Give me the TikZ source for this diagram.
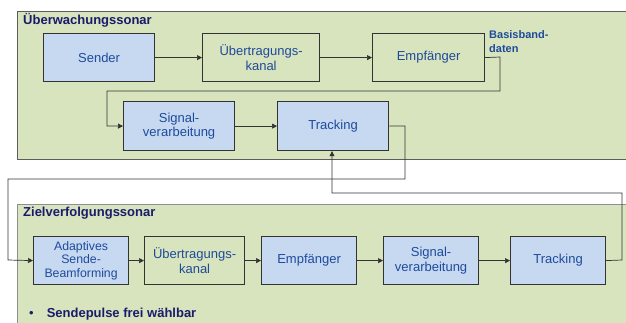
\documentclass[tikz,border=0pt]{standalone}
\usepackage{fontspec}
\setmainfont{Liberation Sans}
\usetikzlibrary{arrows.meta,positioning}
\definecolor{panelgreen}{HTML}{D7E4BD}
\definecolor{boxblue}{HTML}{C6D9F1}
\definecolor{boxtext}{HTML}{1F4A9C}
\definecolor{titletext}{HTML}{1B1B6B}
\definecolor{edgegray}{HTML}{333333}
\tikzset{
  panel/.style={draw=edgegray!80, line width=0.8pt, fill=panelgreen},
  blockbase/.style={draw=edgegray, line width=1.2pt, anchor=north west, inner sep=0pt,
    text=boxtext, align=center, font=\fontsize{13}{14.5}\selectfont},
  bluebox/.style={blockbase, fill=boxblue},
  greenbox/.style={blockbase, fill=panelgreen},
  link/.style={draw=edgegray, line width=0.7pt, -{Triangle[length=5pt,width=5pt]}},
  paneltitle/.style={anchor=north west, inner sep=0pt, text=titletext,
    font=\bfseries\fontsize{13}{14}\selectfont},
}
\begin{document}
\begin{tikzpicture}[x=1pt,y=-1pt]
\useasboundingbox (0,0) rectangle (626,322);
\fill[white] (0,0) rectangle (626,322);

% upper panel
\draw[panel] (17,11) rectangle (627,159);
\node[paneltitle] (t1) at (23,13.5) {Überwachungssonar};

\node[bluebox, minimum width=111pt, minimum height=48pt] (send) at (43,33) {Sender};
\node[greenbox, minimum width=117pt, minimum height=48pt] (kan1) at (202,33) {Übertragungs-\\kanal};
\node[greenbox, minimum width=112pt, minimum height=48pt] (emp1) at (372,33) {Empfänger};
\node[anchor=north west, inner sep=0pt, text=boxtext, align=left,
  font=\bfseries\fontsize{11}{13.5}\selectfont] (bbd) at (489,30.5) {Basisband-\\daten};
\node[bluebox, minimum width=111pt, minimum height=49pt] (sig1) at (123,101) {Signal-\\verarbeitung};
\node[bluebox, minimum width=111pt, minimum height=49pt] (trk1) at (277,101) {Tracking};

\draw[link] (send) -- (kan1);
\draw[link] (kan1) -- (emp1);
\coordinate (c1) at (500,57);
\coordinate (c2) at (500,91);
\coordinate (c3) at (107,91);
\coordinate (c4) at (107,126);
\draw[link] (emp1.east) -- (c1) -- (c2) -- (c3) -- (c4) -- (sig1.west);
\draw[link] (sig1) -- (trk1);

% lower panel
\draw[panel, draw=edgegray!55] (17,204) rectangle (627,323);
\node[paneltitle] (t2) at (23,206.5) {Zielverfolgungssonar};

\node[bluebox, minimum width=95pt, minimum height=48pt,
  font=\fontsize{12.3}{13.5}\selectfont] (abf) at (33,236) {Adaptives\\Sende-\\Beamforming};
\node[greenbox, minimum width=100pt, minimum height=48pt] (kan2) at (144,236) {Übertragungs-\\kanal};
\node[bluebox, minimum width=95pt, minimum height=48pt] (emp2) at (261,236) {Empfänger};
\node[bluebox, minimum width=95pt, minimum height=48pt] (sig2) at (383,236) {Signal-\\verarbeitung};
\node[bluebox, minimum width=95pt, minimum height=48pt] (trk2) at (510,236) {Tracking};

\draw[link] (abf) -- (kan2);
\draw[link] (kan2) -- (emp2);
\draw[link] (emp2) -- (sig2);
\draw[link] (sig2) -- (trk2);

% feedback from upper tracking to beamforming
\coordinate (d1) at (405,126);
\coordinate (d2) at (405,179);
\coordinate (d3) at (8,179);
\coordinate (d4) at (8,260);
\draw[link] (trk1.east) -- (d1) -- (d2) -- (d3) -- (d4) -- (abf.west);

% feedback from lower tracking to upper tracking
\coordinate (e1) at (622,260);
\coordinate (e2) at (622,193);
\coordinate (e3) at (332,193);
\draw[link] (trk2.east) -- (e1) -- (e2) -- (e3) -- (trk1.south -| e3);

\node[anchor=west, inner sep=0pt, text=titletext,
  font=\fontsize{13}{14}\selectfont] (bul) at (29,314)
  {\textbullet\hspace{13pt}\bfseries Sendepulse frei wählbar};
\end{tikzpicture}
\end{document}
